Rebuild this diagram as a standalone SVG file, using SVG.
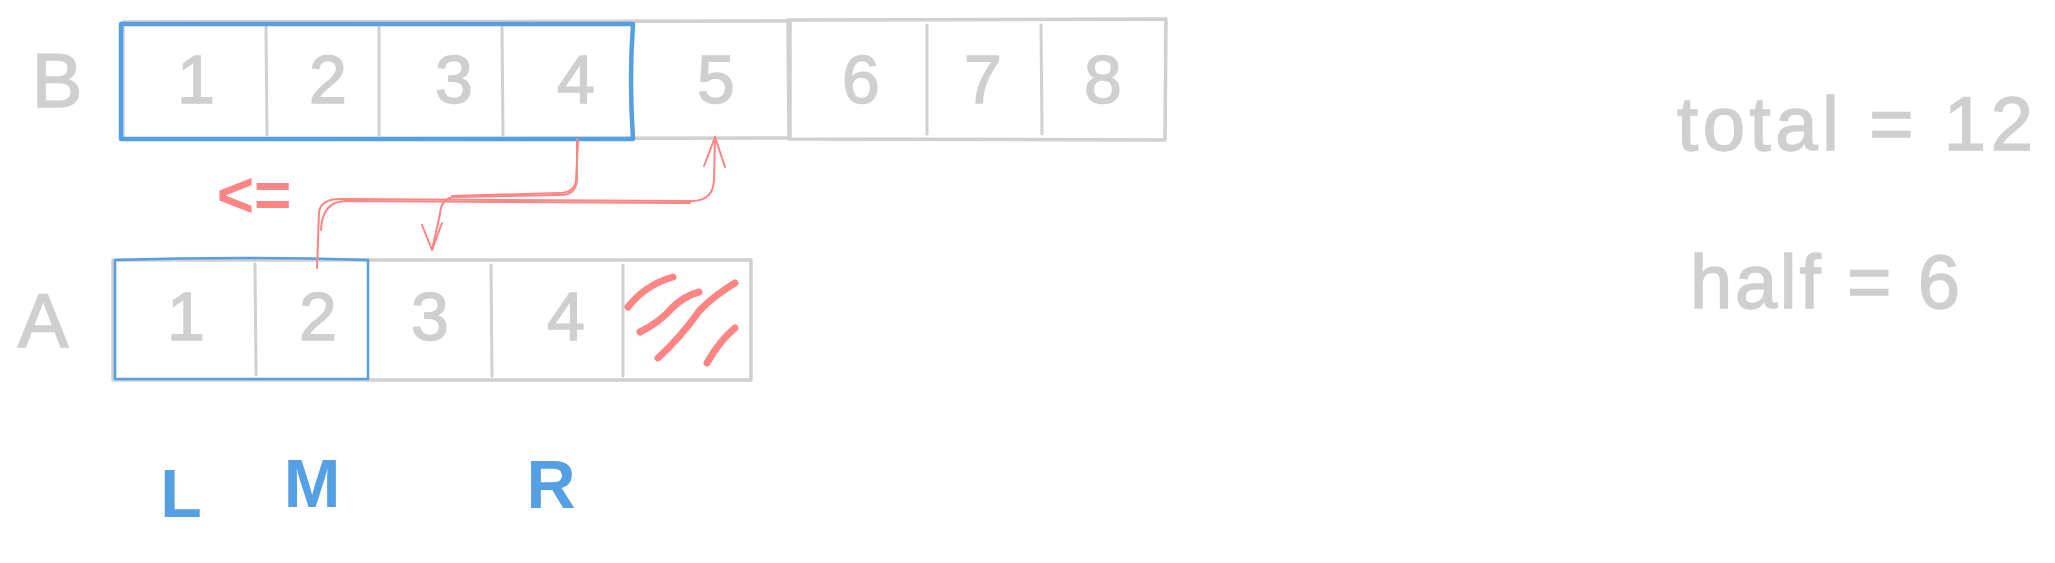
<svg xmlns="http://www.w3.org/2000/svg" width="2055" height="563" viewBox="0 0 2055 563">
<defs>
<style>
.bg{fill:#ffffff}
.cell{fill:none;stroke:#d0d0d0;stroke-width:3.5;stroke-linecap:round;stroke-linejoin:round}
.div{fill:none;stroke:#d0d0d0;stroke-width:3;stroke-linecap:round}
.sel{fill:none;stroke:#55a0e3;stroke-linecap:round;stroke-linejoin:round}
.num{font-family:"Liberation Sans",Arial,sans-serif;font-size:68px;fill:#cfcfcf;stroke:#cfcfcf;stroke-width:1.5;text-anchor:middle}
.lbl{font-family:"Liberation Sans",Arial,sans-serif;font-size:76px;fill:#cfcfcf;stroke:#cfcfcf;stroke-width:1.5;text-anchor:middle}
.ptr{font-family:"Liberation Sans",Arial,sans-serif;font-size:68px;fill:#55a0e3;text-anchor:middle;font-weight:bold}
.note{font-family:"Liberation Sans",Arial,sans-serif;font-size:76px;fill:#cfcfcf;stroke:#cfcfcf;stroke-width:1.5}
.cmp{font-family:"Liberation Sans",Arial,sans-serif;font-size:64px;fill:#ff8585;text-anchor:middle;font-weight:bold}
.conn{fill:none;stroke:#ff8585;stroke-width:2;stroke-linecap:round;stroke-linejoin:round}
.hatch{fill:none;stroke:#ff8585;stroke-width:7;stroke-linecap:round}
</style>
</defs>
<rect class="bg" x="0" y="0" width="2055" height="563"/>

<g id="label-B"><text class="lbl" x="57" y="107">B</text></g>
<g id="array-B">
  <path class="cell" d="M123 22 L790 21 L790 138 L123 139 Z"/>
  <path class="cell" d="M788 20 L1166 19 L1165 140 L789 139 Z"/>
  <line class="div" x1="266" y1="27" x2="267" y2="135"/>
  <line class="div" x1="379" y1="27" x2="379" y2="135"/>
  <line class="div" x1="502" y1="27" x2="503" y2="135"/>
  <line class="div" x1="927" y1="25" x2="927" y2="134"/>
  <line class="div" x1="1041" y1="25" x2="1042" y2="134"/>
  <path class="sel" stroke-width="4.5" d="M121 24 L633 24 Q629 80 633 139 L121 139 Z"/>
  <text class="num" x="196" y="103">1</text>
  <text class="num" x="328" y="103">2</text>
  <text class="num" x="454" y="103">3</text>
  <text class="num" x="576" y="103">4</text>
  <text class="num" x="716" y="103">5</text>
  <text class="num" x="861" y="103">6</text>
  <text class="num" x="983" y="103">7</text>
  <text class="num" x="1103" y="103">8</text>
</g>

<g id="label-A"><text class="lbl" x="43" y="347">A</text></g>
<g id="array-A">
  <path class="cell" d="M113 260 L751 260 L751 380 L113 380 Z"/>
  <line class="div" x1="255" y1="264" x2="256" y2="375"/>
  <line class="div" x1="491" y1="265" x2="492" y2="376"/>
  <line class="div" x1="623" y1="265" x2="623" y2="376"/>
  <path class="sel" stroke-width="2.5" d="M115 260 Q240 256 368 260 L368 379 L115 379 Z"/>
  <text class="num" x="186" y="340">1</text>
  <text class="num" x="318" y="340">2</text>
  <text class="num" x="430" y="340">3</text>
  <text class="num" x="566" y="340">4</text>
  <g id="hatch">
    <path class="hatch" d="M628 307 Q645 285 673 277"/>
    <path class="hatch" d="M640 332 Q660 322 672 308 Q684 296 699 292"/>
    <path class="hatch" d="M658 358 Q680 338 700 310 Q715 295 735 283"/>
    <path class="hatch" d="M707 363 Q720 340 735 328"/>
  </g>
</g>

<g id="pointers">
  <g id="ptr-L"><text class="ptr" x="181" y="517">L</text></g>
  <g id="ptr-M"><text class="ptr" x="312" y="507">M</text></g>
  <g id="ptr-R"><text class="ptr" x="551" y="508">R</text></g>
</g>

<g id="compare"><text class="cmp" x="254" y="217">&lt;=</text></g>

<g id="notes">
  <text class="note" x="1677" y="150" textLength="356" lengthAdjust="spacing">total = 12</text>
  <text class="note" x="1690" y="308" textLength="270" lengthAdjust="spacing">half = 6</text>
</g>

<g id="connectors">
  <g id="edge-B4-A3">
    <path class="conn" d="M577 139 L577 178 Q577 195 560 195 L455 197 Q441 198 440 214 L432 250"/>
    <path class="conn" d="M578 141 L576 180 Q575 193 558 193 L452 196"/>
    <path class="conn" d="M422 225 L432 250 L442 223"/>
  </g>
  <g id="edge-A2-B5">
    <path class="conn" d="M317 268 L319 212 Q321 199 340 199 L692 201 Q713 201 714 180 L715 137"/>
    <path class="conn" d="M321 230 Q322 202 345 201 L690 203"/>
    <path class="conn" d="M704 166 L715 137 L725 167"/>
  </g>
</g>
</svg>
